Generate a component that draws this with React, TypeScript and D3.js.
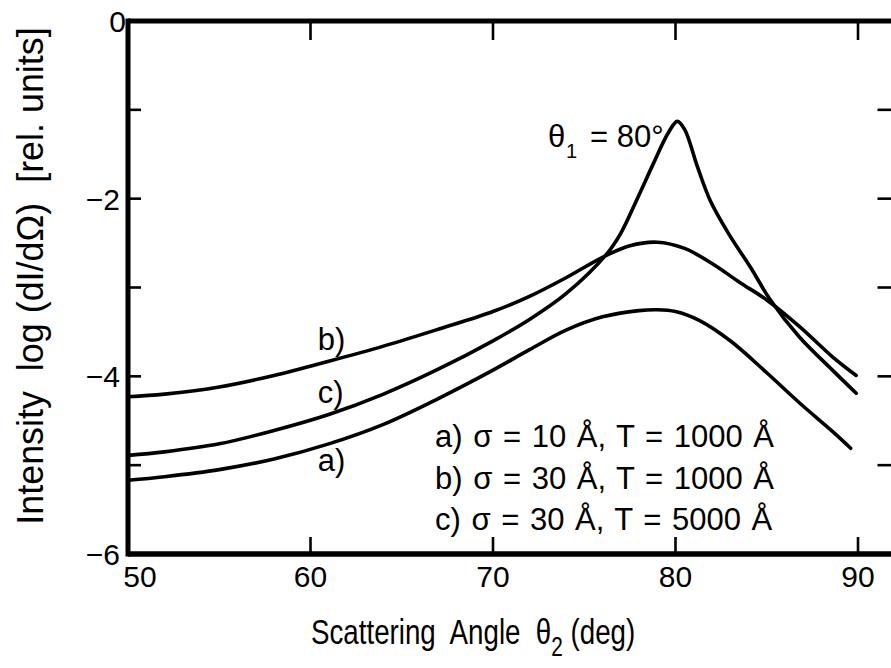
import React from 'react';
import * as d3 from 'd3';

// Curve a) sigma = 10 Å, T = 1000 Å
const thetaA = [50, 52, 55, 58, 61, 64, 67, 70, 72, 74, 76, 78, 79, 80, 81.3, 83, 85, 86.8, 88.6, 89.6];
const logA = [-5.17, -5.13, -5.05, -4.93, -4.76, -4.54, -4.25, -3.93, -3.70, -3.48, -3.33, -3.26, -3.25, -3.27, -3.37, -3.60, -3.96, -4.30, -4.62, -4.81];

// Curve b) sigma = 30 Å, T = 1000 Å
const thetaB = [50, 52, 55, 58, 61, 64, 67, 70, 72, 74, 76, 77.5, 79, 80.5, 82, 83.5, 85, 86.8, 88.6, 89.9];
const logB = [-4.23, -4.20, -4.12, -3.99, -3.83, -3.66, -3.47, -3.27, -3.10, -2.89, -2.66, -2.53, -2.49, -2.56, -2.73, -2.94, -3.14, -3.44, -3.78, -3.99];

// Curve c) sigma = 30 Å, T = 5000 Å
const thetaC = [50, 52, 55, 58, 61, 64, 67, 70, 72, 74, 76.2, 77.0, 77.95, 78.8, 79.6, 80.1, 80.5, 81.2, 81.9, 82.9, 84.1, 85.2, 86.8, 88.6, 89.9];
const logC = [-4.89, -4.85, -4.76, -4.61, -4.43, -4.20, -3.92, -3.60, -3.36, -3.07, -2.63, -2.39, -1.98, -1.60, -1.26, -1.13, -1.22, -1.64, -2.02, -2.39, -2.77, -3.14, -3.56, -3.93, -4.19];

const xTickLabels = [50, 60, 70, 80, 90];
const xTickMarks = [60, 70, 80, 90];
const yTickLabels = [0, -2, -4, -6];
const yTickMarks = [-1, -2, -3, -4, -5];

const legendLines = [
  'a) σ = 10 Å, T = 1000 Å',
  'b) σ = 30 Å, T = 1000 Å',
  'c) σ = 30 Å, T = 5000 Å',
];

const curveLabels = [
  { text: 'b)', theta: 60.4, value: -3.70 },
  { text: 'c)', theta: 60.4, value: -4.30 },
  { text: 'a)', theta: 60.4, value: -5.07 },
];

const FONT = "'Liberation Sans', Arial, Helvetica, sans-serif";

export default function App() {
  const x = d3.scaleLinear().domain([50, 92]).range([128, 894.5]);
  const y = d3.scaleLinear().domain([0, -6]).range([21, 554]);

  const line = d3
    .line<[number, number]>()
    .x((d) => x(d[0]))
    .y((d) => y(d[1]))
    .curve(d3.curveCatmullRom.alpha(0.5));

  const series = [
    thetaA.map((t, i) => [t, logA[i]] as [number, number]),
    thetaB.map((t, i) => [t, logB[i]] as [number, number]),
    thetaC.map((t, i) => [t, logC[i]] as [number, number]),
  ];

  const x0 = x(50);
  const x1 = x(92);
  const yTop = y(0);
  const yBot = y(-6);

  return (
    <svg
      width={891}
      height={668}
      style={{ position: 'absolute', left: 0, top: 0, background: '#fff' }}
      fontFamily={FONT}
    >
      <rect x={0} y={0} width={891} height={668} fill="#fff" />
      {/* curves */}
      {series.map((s, i) => (
        <path key={i} d={line(s) || ''} fill="none" stroke="#000" strokeWidth={3.6} strokeLinejoin="round" strokeLinecap="round" />
      ))}

      {/* frame */}
      <line x1={x0} y1={yTop} x2={x1} y2={yTop} stroke="#000" strokeWidth={5} />
      <line x1={x0} y1={yBot} x2={x1} y2={yBot} stroke="#000" strokeWidth={5.5} />
      <line x1={x0} y1={yTop - 2.5} x2={x0} y2={yBot + 2.5} stroke="#000" strokeWidth={5} />
      <line x1={x1} y1={yTop} x2={x1} y2={yBot} stroke="#000" strokeWidth={5} />

      {/* x ticks */}
      {xTickMarks.map((t) => (
        <g key={'xt' + t}>
          <line x1={x(t)} x2={x(t)} y1={yBot} y2={yBot - 17} stroke="#000" strokeWidth={2.6} />
          <line x1={x(t)} x2={x(t)} y1={yTop} y2={yTop + 19} stroke="#000" strokeWidth={2.6} />
        </g>
      ))}
      {/* y ticks */}
      {yTickMarks.map((t) => (
        <g key={'yt' + t}>
          <line x1={x0} x2={x0 + 13} y1={y(t)} y2={y(t)} stroke="#000" strokeWidth={2.6} />
          <line x1={x1} x2={x1 - 17} y1={y(t)} y2={y(t)} stroke="#000" strokeWidth={2.6} />
        </g>
      ))}

      {/* x tick labels */}
      {xTickLabels.map((t) => (
        <text
          key={'xl' + t}
          x={t === 50 ? x(t) + 12 : x(t)}
          y={587}
          fontSize={30}
          textAnchor="middle"
        >
          {String(t)}
        </text>
      ))}
      {/* y tick labels */}
      {yTickLabels.map((t) => (
        <text
          key={'yl' + t}
          x={t === 0 ? 126 : 120}
          y={y(t) + 11}
          fontSize={30}
          textAnchor="end"
        >
          {t === 0 ? '0' : '−' + String(-t)}
        </text>
      ))}

      {/* axis titles */}
      <g transform="translate(43,276) rotate(-90) scale(0.97,1)">
        <text x={0} y={0} fontSize={37} textAnchor="middle" style={{ whiteSpace: 'pre' }}>
          {'Intensity  log (dI/dΩ)  [rel. units]'}
        </text>
      </g>
      <g transform="translate(311,644) scale(0.77,1)">
        <text x={0} y={0} fontSize={36} style={{ whiteSpace: 'pre' }}>
          {'Scattering  Angle  θ'}
          <tspan fontSize={27} dy={12}>2</tspan>
          <tspan dy={-12}>{' (deg)'}</tspan>
        </text>
      </g>

      {/* peak annotation */}
      <text x={548} y={147} fontSize={31}>θ</text>
      <text x={566} y={158} fontSize={20}>1</text>
      <text x={590} y={147} fontSize={31} style={{ whiteSpace: 'pre' }}>{'= 80°'}</text>

      {/* curve labels */}
      {curveLabels.map((c) => (
        <text key={c.text} x={x(c.theta)} y={y(c.value)} fontSize={31}>
          {c.text}
        </text>
      ))}

      {/* legend */}
      {legendLines.map((s, i) => (
        <text key={s} x={435} y={447 + i * 41.5} fontSize={31} wordSpacing={2} style={{ whiteSpace: 'pre' }}>
          {s}
        </text>
      ))}
    </svg>
  );
}
